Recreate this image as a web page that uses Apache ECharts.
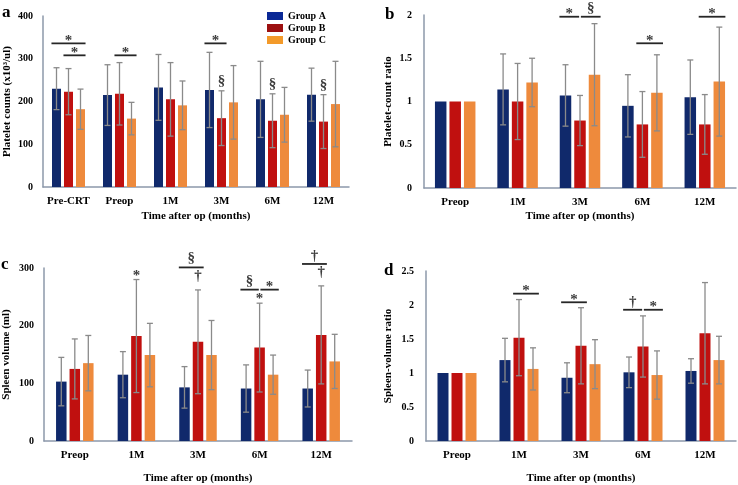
<!DOCTYPE html>
<html><head><meta charset="utf-8">
<script src="https://cdn.jsdelivr.net/npm/echarts/dist/echarts.min.js"></script>
<style>html,body{margin:0;padding:0;background:#fff}#c{width:738px;height:485px}</style>
</head><body><div id="c"></div>
<script>
// ---------- data ----------
const groups = ['Group A', 'Group B', 'Group C'];
const catsA = ['Pre-CRT', 'Preop', '1M', '3M', '6M', '12M'];
const catsB = ['Preop', '1M', '3M', '6M', '12M'];

// a: platelet counts (x10^3/ul)
const plateletMeanA = [230, 215, 233, 227, 205, 216];
const plateletMeanB = [223, 218, 205, 161, 155, 153];
const plateletMeanC = [182, 160, 191, 198, 169, 194];
const plateletSdA = [49, 71, 77, 88, 89, 62];
const plateletSdB = [54, 73, 86, 64, 63, 63];
const plateletSdC = [47, 38, 57, 86, 64, 100];

// b: platelet-count ratio
const plRatioMeanA = [1, 1.14, 1.07, 0.95, 1.05];
const plRatioMeanB = [1, 1.0, 0.78, 0.735, 0.735];
const plRatioMeanC = [1, 1.22, 1.31, 1.10, 1.23];
const plRatioSdA = [0, 0.41, 0.355, 0.36, 0.43];
const plRatioSdB = [0, 0.44, 0.29, 0.38, 0.345];
const plRatioSdC = [0, 0.28, 0.59, 0.44, 0.63];

// c: spleen volume (ml)
const spleenMeanA = [103, 115, 93, 91, 91];
const spleenMeanB = [125, 182, 172, 162, 184];
const spleenMeanC = [135, 149, 149, 115, 138];
const spleenSdA = [42, 40, 36, 41, 32];
const spleenSdB = [52, 98, 90, 77, 85];
const spleenSdC = [48, 55, 60, 34, 47];

// d: spleen-volume ratio
const spRatioMeanA = [1, 1.19, 0.93, 1.01, 1.03];
const spRatioMeanB = [1, 1.52, 1.40, 1.39, 1.585];
const spRatioMeanC = [1, 1.06, 1.13, 0.97, 1.19];
const spRatioSdA = [0, 0.32, 0.22, 0.225, 0.18];
const spRatioSdB = [0, 0.56, 0.56, 0.45, 0.745];
const spRatioSdC = [0, 0.31, 0.36, 0.355, 0.35];

// significance brackets: [category index, from group, to group, y value, symbol]
const bracketsA = [[0, 0, 2, 336, '*'], [0, 1, 2, 308, '*'], [1, 1, 2, 308, '*'], [3, 0, 1, 336, '*']];
const bracketsB = [[2, 0, 1, 1.98, '*'], [2, 1, 2, 1.98, '§'], [3, 1, 2, 1.673, '*'], [4, 1, 2, 1.98, '*']];
const bracketsC = [[2, 0, 1, 301, '§'], [3, 0, 1, 262.5, '§'], [3, 1, 2, 262.5, '*'], [4, 0, 1, 307, '†']];
const bracketsD = [[1, 1, 2, 2.167, '*'], [2, 0, 1, 2.04, '*'], [3, 0, 1, 1.93, '†'], [3, 1, 2, 1.93, '*']];
// symbols above a bar's error bar: [category index, group, symbol]
const marksA = [[3, 1, '§'], [4, 1, '§'], [5, 1, '§']];
const marksB = [];
const marksC = [[1, 1, '*'], [2, 1, '†'], [3, 1, '*'], [4, 1, '†']];
const marksD = [];

// ---------- style / layout ----------
const serif = '"Liberation Serif", "Times New Roman", serif';
const colors = ['#10296b', '#c0100f', '#ee8a3c'];
const axisColor = '#8c98aa';
const errColor = '#8a8a8a';
const symColor = '#3c3c3c';
const symFont = { '*': 15, '§': 15, '†': 15 };
const symGlyph = { '*': -2.2, '§': 0.6, '†': 0.5 };      // glyph centre vs. middle anchor
const symAboveLine = { '*': 4.5, '§': 8.3, '†': 7 };     // desired glyph centre above bracket line
const symAboveErr = { '*': 6, '§': 9, '†': 13 };          // desired glyph centre above error cap

const panels = [
  { grid: { left: 43, top: 16, width: 306, height: 171 }, cats: catsA, max: 400, interval: 100,
    means: [plateletMeanA, plateletMeanB, plateletMeanC], sds: [plateletSdA, plateletSdB, plateletSdC],
    yName: 'Platelet counts (x10³/ul)', barW: 9, gap: 3, labelMargin: 10, yNameGap: 30, xNameGap: 24,
    brackets: bracketsA, marks: marksA },
  { grid: { left: 424, top: 15, width: 312, height: 173 }, cats: catsB, max: 2, interval: 0.5,
    means: [plRatioMeanA, plRatioMeanB, plRatioMeanC], sds: [plRatioSdA, plRatioSdB, plRatioSdC],
    yName: 'Platelet-count ratio', barW: 11.5, gap: 3, labelMargin: 12, yNameGap: 30, xNameGap: 23,
    brackets: bracketsB, marks: marksB },
  { grid: { left: 44, top: 268, width: 308, height: 173 }, cats: catsB, max: 300, interval: 100,
    means: [spleenMeanA, spleenMeanB, spleenMeanC], sds: [spleenSdA, spleenSdB, spleenSdC],
    yName: 'Spleen volume (ml)', barW: 10.5, gap: 3, labelMargin: 10, yNameGap: 32, xNameGap: 32,
    brackets: bracketsC, marks: marksC },
  { grid: { left: 426, top: 271, width: 310, height: 170 }, cats: catsB, max: 2.5, interval: 0.5,
    means: [spRatioMeanA, spRatioMeanB, spRatioMeanC], sds: [spRatioSdA, spRatioSdB, spRatioSdC],
    yName: 'Spleen-volume ratio', barW: 11, gap: 3, labelMargin: 12, yNameGap: 32, xNameGap: 32,
    brackets: bracketsD, marks: marksD }
];

const grids = [], xAxes = [], yAxes = [], series = [];
panels.forEach((p, pi) => {
  grids.push(Object.assign({ containLabel: false }, p.grid));
  xAxes.push({
    type: 'category', gridIndex: pi, data: p.cats,
    axisLine: { lineStyle: { color: axisColor, width: 1.5 } },
    axisTick: { show: false },
    axisLabel: { interval: 0, fontFamily: serif, fontWeight: 'bold', fontSize: 11, color: '#000', margin: 9 },
    name: 'Time after op (months)', nameLocation: 'middle', nameGap: p.xNameGap,
    nameTextStyle: { fontFamily: serif, fontWeight: 'bold', fontSize: 11, color: '#000' }
  });
  yAxes.push({
    type: 'value', gridIndex: pi, min: 0, max: p.max, interval: p.interval,
    axisLine: { show: true, lineStyle: { color: axisColor, width: 1.5 } },
    axisTick: { show: false }, splitLine: { show: false },
    axisLabel: { fontFamily: serif, fontWeight: 'bold', fontSize: 10, color: '#000', margin: p.labelMargin },
    name: p.yName, nameLocation: 'middle', nameGap: p.yNameGap, nameRotate: 90,
    nameTextStyle: { fontFamily: serif, fontWeight: 'bold', fontSize: 11, color: '#000' }
  });
  const slot = p.barW + p.gap;
  const gapPct = (p.gap / p.barW * 100).toFixed(1) + '%';
  groups.forEach((g, gi) => {
    series.push({
      type: 'bar', name: g, xAxisIndex: pi, yAxisIndex: pi, data: p.means[gi],
      barWidth: p.barW, barGap: gapPct, itemStyle: { color: colors[gi] }, z: 2,
      emphasis: { disabled: true }
    });
  });
  groups.forEach((g, gi) => {
    series.push({
      type: 'custom', name: 'err' + pi + gi, xAxisIndex: pi, yAxisIndex: pi, z: 3, silent: true,
      data: p.means[gi].map((m, i) => [i, m, p.sds[gi][i]]),
      encode: { x: 0, y: 1 },
      renderItem: (params, api) => {
        const cat = api.value(0), m = api.value(1), sd = api.value(2);
        if (!sd) return null;
        const x = api.coord([cat, m])[0] + (gi - 1) * slot;
        const yt = api.coord([cat, m + sd])[1], yb = api.coord([cat, m - sd])[1];
        const st = { stroke: errColor, lineWidth: 1.3 };
        return { type: 'group', children: [
          { type: 'line', shape: { x1: x, y1: yt, x2: x, y2: yb }, style: st },
          { type: 'line', shape: { x1: x - 3, y1: yt, x2: x + 3, y2: yt }, style: st },
          { type: 'line', shape: { x1: x - 3, y1: yb, x2: x + 3, y2: yb }, style: st }
        ] };
      }
    });
  });
  // brackets: span in group-index units, split where two brackets share a bar at same height
  const spans = p.brackets.map((b, i) => {
    let lo = b[1] - 0.42, hi = b[2] + 0.42;
    p.brackets.forEach((o, j) => {
      if (j === i || o[0] !== b[0] || o[3] !== b[3]) return;
      if (o[1] === b[2]) hi = Math.min(hi, b[2] - 0.06);
      if (o[2] === b[1]) lo = Math.max(lo, b[1] + 0.06);
    });
    return [lo, hi];
  });
  series.push({
    type: 'custom', name: 'br' + pi, xAxisIndex: pi, yAxisIndex: pi, z: 4, silent: true, clip: false,
    data: p.brackets.map(b => [b[0], b[3]]),
    encode: { x: 0, y: 1 },
    renderItem: (params, api) => {
      const b = p.brackets[params.dataIndex], sp = spans[params.dataIndex];
      const c = api.coord([api.value(0), api.value(1)]);
      const x1 = c[0] + (sp[0] - 1) * slot, x2 = c[0] + (sp[1] - 1) * slot;
      const s = b[4];
      return { type: 'group', children: [
        { type: 'line', shape: { x1: x1, y1: c[1], x2: x2, y2: c[1] }, style: { stroke: '#262626', lineWidth: 1.8 } },
        { type: 'text', style: { text: s, x: (x1 + x2) / 2, y: c[1] - symAboveLine[s] - symGlyph[s],
          align: 'center', verticalAlign: 'middle', fill: symColor,
          font: 'bold ' + symFont[s] + 'px ' + serif } }
      ] };
    }
  });
  series.push({
    type: 'custom', name: 'mk' + pi, xAxisIndex: pi, yAxisIndex: pi, z: 4, silent: true, clip: false,
    data: p.marks.map(mk => [mk[0], p.means[mk[1]][mk[0]] + p.sds[mk[1]][mk[0]]]),
    encode: { x: 0, y: 1 },
    renderItem: (params, api) => {
      const mk = p.marks[params.dataIndex];
      const c = api.coord([api.value(0), api.value(1)]);
      const s = mk[2];
      return { type: 'text', style: { text: s, x: c[0] + (mk[1] - 1) * slot,
        y: c[1] - symAboveErr[s] - symGlyph[s], align: 'center', verticalAlign: 'middle',
        fill: symColor, font: 'bold ' + symFont[s] + 'px ' + serif } };
    }
  });
});

const letterStyle = (t) => ({ text: t, font: 'bold 17px ' + serif, fill: '#000' });
const option = {
  animation: false,
  textStyle: { fontFamily: serif },
  grid: grids, xAxis: xAxes, yAxis: yAxes, series: series,
  legend: {
    left: 262, top: 6, orient: 'vertical', itemWidth: 16, itemHeight: 8, itemGap: 2, icon: 'rect',
    selectedMode: false,
    textStyle: { fontFamily: serif, fontWeight: 'bold', fontSize: 10, color: '#000', lineHeight: 8 },
    data: groups.map((g, gi) => ({ name: g, itemStyle: { color: ['#0a2896', '#9c1010', '#f39a2a'][gi] } }))
  },
  graphic: [
    { type: 'text', left: 2, top: 4, style: letterStyle('a') },
    { type: 'text', left: 385, top: 6, style: letterStyle('b') },
    { type: 'text', left: 1, top: 256, style: letterStyle('c') },
    { type: 'text', left: 384, top: 262, style: letterStyle('d') }
  ]
};
const chart = echarts.init(document.getElementById('c'));
chart.setOption(option);
</script>
</body></html>
